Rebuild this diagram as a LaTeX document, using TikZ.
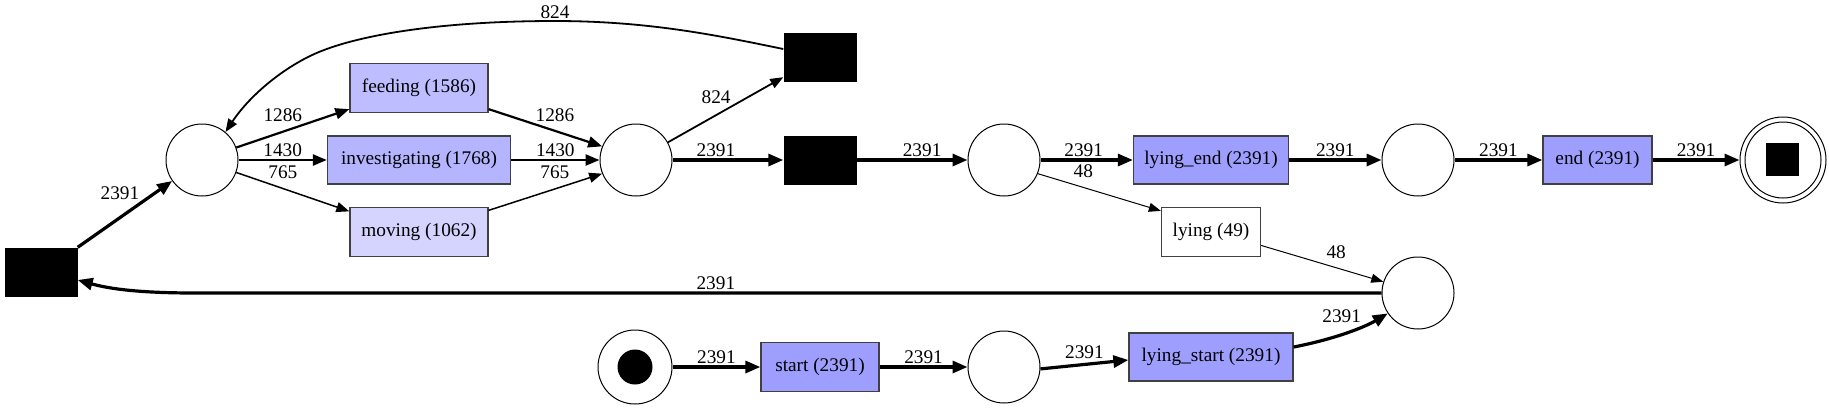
\documentclass[tikz,border=0pt]{standalone}
\usepackage{fontspec}
\setmainfont{Liberation Serif}
\usetikzlibrary{arrows.meta}
\definecolor{cfeed}{HTML}{BDBDFF}
\definecolor{cinv}{HTML}{B4B4FF}
\definecolor{cmove}{HTML}{D4D4FF}
\definecolor{cstrong}{HTML}{9E9EFF}
\definecolor{boxline}{HTML}{404040}
\tikzset{
  place/.style={circle, draw=black, line width=1pt, minimum size=72pt, inner sep=0pt},
  trans/.style={rectangle, draw=boxline, line width=1.3pt, minimum height=49pt, inner sep=0pt},
  silent/.style={rectangle, fill=black, minimum width=73pt, minimum height=49pt, inner sep=0pt},
  lab/.style={inner sep=0pt},
  ebig/.style={line width=3.2pt, -{Triangle[length=15pt,width=12pt]}},
  e1430/.style={line width=2.5pt, -{Triangle[length=14pt,width=11pt]}},
  e1286/.style={line width=2.2pt, -{Triangle[length=14pt,width=11pt]}},
  e824/.style={line width=1.8pt, -{Triangle[length=13pt,width=10pt]}},
  e765/.style={line width=1.5pt, -{Triangle[length=13pt,width=10pt]}},
  e48/.style={line width=1pt, -{Triangle[length=12pt,width=9pt]}},
}
\begin{document}
\begin{tikzpicture}[x=1pt, y=-1pt, font=\fontsize{19.3}{22}\selectfont]
\useasboundingbox (0,0) rectangle (1829,408);
% nodes
\node[silent] (tau1) at (41,272) {};
\node[place] (p1) at (202,160) {};
\node[trans, fill=cfeed, minimum width=138pt] (feeding) at (419,88) {feeding (1586)};
\node[trans, fill=cinv, minimum width=183pt, minimum height=48pt] (inv) at (419,160) {investigating (1768)};
\node[trans, fill=cmove, minimum width=138pt] (moving) at (419,232) {moving (1062)};
\node[place] (p2) at (636,160) {};
\node[silent] (tauTop) at (820,57.5) {};
\node[silent] (tauMid) at (820,160) {};
\node[place] (p3) at (1004,160) {};
\node[trans, fill=cstrong, minimum width=155pt, minimum height=48pt] (lyend) at (1211,160) {lying\_end (2391)};
\node[trans, fill=white, minimum width=99pt] (lying) at (1211,232) {lying (49)};
\node[place] (p4) at (1418,160) {};
\node[trans, fill=cstrong, minimum width=109pt, minimum height=48pt] (endt) at (1597.5,160) {end (2391)};
\node[circle, draw=black, line width=1pt, minimum size=86pt, inner sep=0pt,
  path picture={
    \draw[line width=1pt] (path picture bounding box.center) circle (38pt);
    \fill ([xshift=-17.5pt,yshift=-15.5pt]path picture bounding box.center) rectangle +(33pt,33pt);
  }] (final) at (1783,160) {};
\node[place] (p5) at (1418,293) {};
\node[place, minimum size=74pt,
  path picture={\fill (path picture bounding box.center) circle (17.5pt);}] (source) at (635,367) {};
\node[trans, fill=cstrong, minimum width=118pt] (start) at (820,367) {start (2391)};
\node[place] (ps2) at (1004,367) {};
\node[trans, fill=cstrong, minimum width=164pt, minimum height=48pt] (lystart) at (1211,357) {lying\_start (2391)};
% edges
\draw[ebig] (tau1.north east) -- node[lab, xshift=-5pt, yshift=21pt] {2391} (p1);
\draw[e1286] (p1.20) -- node[lab, xshift=-10pt, yshift=13pt] {1286} ([yshift=4pt]feeding.south west);
\draw[e1430] (p1.east) -- node[lab, yshift=10pt] {1430} (inv.west);
\draw[e765] (p1.-20) -- node[lab, xshift=-10pt, yshift=20pt] {765} ([yshift=-4.5pt]moving.north west);
\draw[e1286] ([yshift=4pt]feeding.south east) -- node[lab, xshift=9.5pt, yshift=12.5pt] {1286} (p2.158);
\draw[e1430] (inv.east) -- node[lab, yshift=10pt] {1430} (p2.west);
\draw[e765] ([yshift=-3.5pt]moving.north east) -- node[lab, xshift=9.5pt, yshift=20pt] {765} (p2.202);
\draw[e824] (p2.29) -- node[lab, xshift=-9.5pt, yshift=13pt] {824} ([yshift=5pt]tauTop.south west);
\draw[e824] ([yshift=8.5pt]tauTop.west) .. controls (720,36) and (650,21) .. node[lab, pos=1, yshift=9pt] {824} (555,21)
  .. controls (440,21) and (360,35) .. (319,52) .. controls (285,66) and (250,95) .. (p1.50);
\draw[ebig] (p2.east) -- node[lab, xshift=-12pt, yshift=10pt] {2391} (tauMid.west);
\draw[ebig] (tauMid.east) -- node[lab, xshift=10pt, yshift=10pt] {2391} (p3.west);
\draw[ebig] (p3.east) -- node[lab, xshift=-3pt, yshift=10pt] {2391} (lyend.west);
\draw[e48] (p3.-22) -- node[lab, xshift=-16pt, yshift=21pt] {48} ([yshift=-4pt]lying.north west);
\draw[ebig] (lyend.east) -- node[lab, yshift=10pt] {2391} (p4.west);
\draw[ebig] (p4.east) -- node[lab, yshift=10pt] {2391} (endt.west);
\draw[ebig] (endt.east) -- node[lab, yshift=10pt] {2391} (final.west);
\draw[e48] (lying.-15) -- node[lab, xshift=14pt, yshift=11.5pt] {48} (p5.162);
\draw[ebig] (p5.west) -- node[lab, pos=0.561, yshift=10pt] {2391} (195,293)
  .. controls (140,293) and (110,289) .. ([yshift=-8pt]tau1.east);
\draw[ebig] (source.east) -- node[lab, yshift=10pt] {2391} (start.west);
\draw[ebig] (start.east) -- node[lab, yshift=10pt] {2391} (ps2.west);
\draw[ebig] (ps2.-3) -- node[lab, yshift=12.5pt] {2391} ([yshift=-3pt]lystart.west);
\draw[ebig] ([yshift=10pt]lystart.east) .. controls (1335,339) and (1365,327) .. node[lab, pos=0.5, xshift=-6pt, yshift=16pt] {2391} (p5.214);
\end{tikzpicture}
\end{document}
